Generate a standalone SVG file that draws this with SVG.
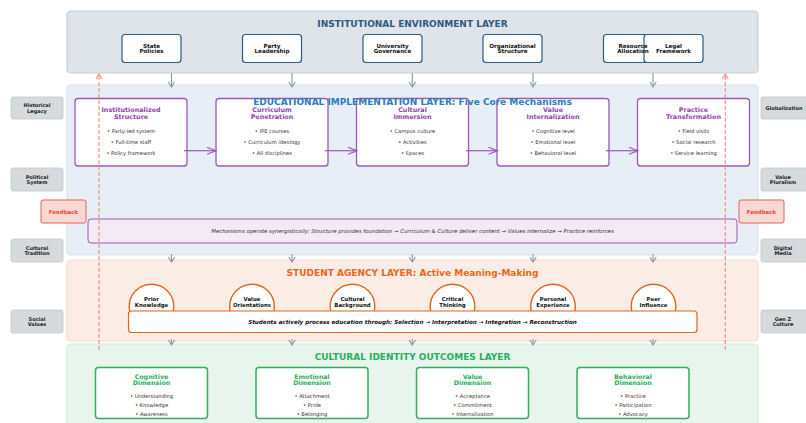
<svg xmlns="http://www.w3.org/2000/svg" width="806" height="423" viewBox="0 0 806 423">
<defs>
<style>
text{font-family:"DejaVu Sans","Liberation Sans",sans-serif;text-anchor:middle}
.ltitle{font-size:9px;font-weight:bold}
.tn{fill:#fff;stroke:#2b5b80;stroke-width:1.2}
.tnt{font-size:5.6px;font-weight:bold;fill:#111}
.mech{fill:#fff;stroke:#9b59b6;stroke-width:1.3}
.mt{font-size:6.4px;font-weight:bold;fill:#8e44ad}
.bul{font-size:5.2px;fill:#333}
.circ{fill:#fff;stroke:#e0651c;stroke-width:1.4}
.ct{font-size:5.4px;font-weight:bold;fill:#111}
.out{fill:#fff;stroke:#2eae62;stroke-width:1.5}
.ot{font-size:6.3px;font-weight:bold;fill:#27ae60}
.side{fill:#d6dadc;stroke:#c3c8cb;stroke-width:0.8}
.st{font-size:5px;font-weight:bold;fill:#222}
.fb{fill:#fad8d4;stroke:#e8604e;stroke-width:1}
.fbt{font-size:5.5px;font-weight:bold;fill:#e74c3c}
.garrow{stroke:#8a96a2;stroke-width:1.1;fill:none;marker-end:url(#ga)}
.parrow{stroke:#9b59b6;stroke-width:1.2;fill:none;marker-end:url(#pa)}
.rdash{stroke:#f08a7c;stroke-width:1.1;fill:none;stroke-dasharray:4 2;marker-end:url(#ra)}
</style>
<marker id="ga" markerWidth="8" markerHeight="8" refX="6" refY="4" orient="auto" markerUnits="userSpaceOnUse"><path d="M1,0.8 L6,4 L1,7.2" fill="none" stroke="#8a96a2" stroke-width="1.1"/></marker>
<marker id="pa" markerWidth="12" markerHeight="10" refX="10" refY="5" orient="auto" markerUnits="userSpaceOnUse"><path d="M1,1.5 L10,5 L1,8.5" fill="none" stroke="#9b59b6" stroke-width="1.2"/></marker>
<marker id="ra" markerWidth="8" markerHeight="8" refX="6" refY="4" orient="auto" markerUnits="userSpaceOnUse"><path d="M1,1 L6,4 L1,7" fill="none" stroke="#f08a7c" stroke-width="1.1"/></marker>
</defs>
<rect width="806" height="423" fill="#fff"/>

<!-- Layers -->
<g id="layer-institutional">
<rect x="67" y="11" width="691" height="62" rx="4" fill="#dee4ea" stroke="#c6cfd7" stroke-width="1.2"/>
</g>
<g id="layer-educational">
<rect x="67" y="85" width="691" height="170" rx="4" fill="#e8eef6" stroke="#d8e2ec" stroke-width="1.2"/>
</g>
<g id="layer-student">
<rect x="67" y="260" width="691" height="81" rx="4" fill="#fbede6" stroke="#f6d9ca" stroke-width="1.2"/>
</g>
<g id="layer-outcomes">
<rect x="67" y="344" width="691" height="90" rx="4" fill="#e8f5ec" stroke="#d3ebdb" stroke-width="1.2"/>
</g>

<!-- Side context labels -->
<g id="side-historical-legacy"><rect class="side" x="11" y="97" width="52" height="22" rx="2"/><text class="st" x="37" y="107">Historical</text><text class="st" x="37" y="112.5">Legacy</text></g>
<g id="side-political-system"><rect class="side" x="11" y="168" width="52" height="23" rx="2"/><text class="st" x="37" y="178.5">Political</text><text class="st" x="37" y="184">System</text></g>
<g id="side-cultural-tradition"><rect class="side" x="11" y="239" width="52" height="23" rx="2"/><text class="st" x="37" y="249.5">Cultural</text><text class="st" x="37" y="255">Tradition</text></g>
<g id="side-social-values"><rect class="side" x="11" y="310" width="52" height="23" rx="2"/><text class="st" x="37" y="320.5">Social</text><text class="st" x="37" y="326">Values</text></g>
<g id="side-globalization"><rect class="side" x="761" y="97" width="52" height="22" rx="2"/><text class="st" x="784" y="109.5">Globalization</text></g>
<g id="side-value-pluralism"><rect class="side" x="761" y="168" width="52" height="23" rx="2"/><text class="st" x="783" y="178.5">Value</text><text class="st" x="783" y="184">Pluralism</text></g>
<g id="side-digital-media"><rect class="side" x="761" y="239" width="52" height="23" rx="2"/><text class="st" x="783" y="249.5">Digital</text><text class="st" x="783" y="255">Media</text></g>
<g id="side-genz-culture"><rect class="side" x="761" y="310" width="52" height="23" rx="2"/><text class="st" x="783" y="320.5">Gen Z</text><text class="st" x="783" y="326">Culture</text></g>

<!-- Feedback labels -->
<g id="feedback-left"><rect class="fb" x="41" y="200" width="45" height="23" rx="2"/><text class="fbt" x="63.5" y="213.5">Feedback</text></g>
<g id="feedback-right"><rect class="fb" x="739" y="200" width="45" height="23" rx="2"/><text class="fbt" x="761.5" y="213.5">Feedback</text></g>

<!-- Layer titles -->
<text class="ltitle" x="412.5" y="27.2" fill="#2b5a7e">INSTITUTIONAL ENVIRONMENT LAYER</text>

<!-- Institutional nodes -->
<g id="node-state-policies"><rect class="tn" x="122" y="34.5" width="59" height="28" rx="3"/><text class="tnt" x="151.5" y="47.7">State</text><text class="tnt" x="151.5" y="53.3">Policies</text></g>
<g id="node-party-leadership"><rect class="tn" x="242.5" y="34.5" width="59" height="28" rx="3"/><text class="tnt" x="272" y="47.7">Party</text><text class="tnt" x="272" y="53.3">Leadership</text></g>
<g id="node-university-governance"><rect class="tn" x="363" y="34.5" width="59" height="28" rx="3"/><text class="tnt" x="392.5" y="47.7">University</text><text class="tnt" x="392.5" y="53.3">Governance</text></g>
<g id="node-organizational-structure"><rect class="tn" x="483" y="34.5" width="59" height="28" rx="3"/><text class="tnt" x="512.5" y="47.7">Organizational</text><text class="tnt" x="512.5" y="53.3">Structure</text></g>
<g id="node-resource-allocation"><rect class="tn" x="603.5" y="34.5" width="59" height="28" rx="3"/></g>
<g id="node-legal-framework"><rect class="tn" x="644" y="34.5" width="59" height="28" rx="3"/><text class="tnt" x="673.5" y="47.7">Legal</text><text class="tnt" x="673.5" y="53.3">Framework</text></g>
<g id="node-resource-allocation-label"><text class="tnt" x="633" y="47.7">Resource</text><text class="tnt" x="633" y="53.3">Allocation</text></g>

<!-- Mechanism nodes -->
<g id="mech-institutionalized-structure"><rect class="mech" x="75" y="98.5" width="112" height="67.5" rx="3"/><text class="mt" x="131" y="112.2">Institutionalized</text><text class="mt" x="131" y="118.5">Structure</text><text class="bul" x="131" y="132.6">• Party-led system</text><text class="bul" x="131" y="143.9">• Full-time staff</text><text class="bul" x="131" y="155.2">• Policy framework</text></g>
<g id="mech-curriculum-penetration"><rect class="mech" x="216" y="98.5" width="112" height="67.5" rx="3"/><text class="mt" x="272" y="112.2">Curriculum</text><text class="mt" x="272" y="118.5">Penetration</text><text class="bul" x="272" y="132.6">• IPE courses</text><text class="bul" x="272" y="143.9">• Curriculum ideology</text><text class="bul" x="272" y="155.2">• All disciplines</text></g>
<g id="mech-cultural-immersion"><rect class="mech" x="356.5" y="98.5" width="112" height="67.5" rx="3"/><text class="mt" x="412.5" y="112.2">Cultural</text><text class="mt" x="412.5" y="118.5">Immersion</text><text class="bul" x="412.5" y="132.6">• Campus culture</text><text class="bul" x="412.5" y="143.9">• Activities</text><text class="bul" x="412.5" y="155.2">• Spaces</text></g>
<g id="mech-value-internalization"><rect class="mech" x="497" y="98.5" width="112" height="67.5" rx="3"/><text class="mt" x="553" y="112.2">Value</text><text class="mt" x="553" y="118.5">Internalization</text><text class="bul" x="553" y="132.6">• Cognitive level</text><text class="bul" x="553" y="143.9">• Emotional level</text><text class="bul" x="553" y="155.2">• Behavioral level</text></g>
<g id="mech-practice-transformation"><rect class="mech" x="637.5" y="98.5" width="112" height="67.5" rx="3"/><text class="mt" x="693.5" y="112.2">Practice</text><text class="mt" x="693.5" y="118.5">Transformation</text><text class="bul" x="693.5" y="132.6">• Field visits</text><text class="bul" x="693.5" y="143.9">• Social research</text><text class="bul" x="693.5" y="155.2">• Service learning</text></g>

<text class="ltitle" x="412.5" y="104.6" fill="#2e7bbd">EDUCATIONAL IMPLEMENTATION LAYER: Five Core Mechanisms</text>

<!-- Synergy note -->
<g id="synergy-note"><rect x="88" y="219" width="649" height="24" rx="3" fill="#f3eaf6" stroke="#9b59b6" stroke-width="1"/><text x="412.5" y="233" style="font-size:5.4px;font-style:italic;fill:#333">Mechanisms operate synergistically: Structure provides foundation → Curriculum &amp; Culture deliver content → Values internalize → Practice reinforces</text></g>

<!-- Student layer -->
<text class="ltitle" x="412.5" y="276" fill="#e8671b">STUDENT AGENCY LAYER: Active Meaning-Making</text>
<g id="agency-prior-knowledge"><circle class="circ" cx="151.5" cy="306.5" r="22.3"/><text class="ct" x="151.5" y="301.3">Prior</text><text class="ct" x="151.5" y="306.6">Knowledge</text></g>
<g id="agency-value-orientations"><circle class="circ" cx="252" cy="306.5" r="22.3"/><text class="ct" x="252" y="301.3">Value</text><text class="ct" x="252" y="306.6">Orientations</text></g>
<g id="agency-cultural-background"><circle class="circ" cx="352.5" cy="306.5" r="22.3"/><text class="ct" x="352.5" y="301.3">Cultural</text><text class="ct" x="352.5" y="306.6">Background</text></g>
<g id="agency-critical-thinking"><circle class="circ" cx="452.5" cy="306.5" r="22.3"/><text class="ct" x="452.5" y="301.3">Critical</text><text class="ct" x="452.5" y="306.6">Thinking</text></g>
<g id="agency-personal-experience"><circle class="circ" cx="553" cy="306.5" r="22.3"/><text class="ct" x="553" y="301.3">Personal</text><text class="ct" x="553" y="306.6">Experience</text></g>
<g id="agency-peer-influence"><circle class="circ" cx="653.5" cy="306.5" r="22.3"/><text class="ct" x="653.5" y="301.3">Peer</text><text class="ct" x="653.5" y="306.6">Influence</text></g>
<g id="process-note"><rect x="128.5" y="311" width="568.5" height="21.5" rx="3" fill="#fff" stroke="#e0651c" stroke-width="1.2"/><text x="412.5" y="324" style="font-size:5.6px;font-weight:bold;font-style:italic;fill:#111">Students actively process education through: Selection → Interpretation → Integration → Reconstruction</text></g>

<!-- Outcomes layer -->
<text class="ltitle" x="412.5" y="360" fill="#27ae60">CULTURAL IDENTITY OUTCOMES LAYER</text>
<g id="outcome-cognitive"><rect class="out" x="95.5" y="367.5" width="112" height="51" rx="3"/><text class="ot" x="151.5" y="378.6">Cognitive</text><text class="ot" x="151.5" y="385.3">Dimension</text><text class="bul" x="151.5" y="398">• Understanding</text><text class="bul" x="151.5" y="407">• Knowledge</text><text class="bul" x="151.5" y="416">• Awareness</text></g>
<g id="outcome-emotional"><rect class="out" x="256" y="367.5" width="112" height="51" rx="3"/><text class="ot" x="312" y="378.6">Emotional</text><text class="ot" x="312" y="385.3">Dimension</text><text class="bul" x="312" y="398">• Attachment</text><text class="bul" x="312" y="407">• Pride</text><text class="bul" x="312" y="416">• Belonging</text></g>
<g id="outcome-value"><rect class="out" x="416.5" y="367.5" width="112" height="51" rx="3"/><text class="ot" x="472.5" y="378.6">Value</text><text class="ot" x="472.5" y="385.3">Dimension</text><text class="bul" x="472.5" y="398">• Acceptance</text><text class="bul" x="472.5" y="407">• Commitment</text><text class="bul" x="472.5" y="416">• Internalization</text></g>
<g id="outcome-behavioral"><rect class="out" x="577" y="367.5" width="112" height="51" rx="3"/><text class="ot" x="633" y="378.6">Behavioral</text><text class="ot" x="633" y="385.3">Dimension</text><text class="bul" x="633" y="398">• Practice</text><text class="bul" x="633" y="407">• Participation</text><text class="bul" x="633" y="416">• Advocacy</text></g>

<!-- Connectors -->
<g id="connectors">
<path class="garrow" d="M171.5,73 V87"/>
<path class="garrow" d="M292,73 V87"/>
<path class="garrow" d="M412.3,73 V87"/>
<path class="garrow" d="M533,73 V87"/>
<path class="garrow" d="M653,73 V87"/>
<path class="garrow" d="M171.5,254 V262"/>
<path class="garrow" d="M292,254 V262"/>
<path class="garrow" d="M412.3,254 V262"/>
<path class="garrow" d="M533,254 V262"/>
<path class="garrow" d="M653,254 V262"/>
<path class="garrow" d="M171.5,339 V345"/>
<path class="garrow" d="M292,339 V345"/>
<path class="garrow" d="M412.3,339 V345"/>
<path class="garrow" d="M533,339 V345"/>
<path class="garrow" d="M653,339 V345"/>
<path class="parrow" d="M184,150.7 H216"/>
<path class="parrow" d="M325,150.7 H357"/>
<path class="parrow" d="M466,150.7 H497.5"/>
<path class="parrow" d="M606,150.7 H638"/>
<path class="rdash" d="M99,350 V74"/>
<path class="rdash" d="M725.3,350 V74"/>
</g>
</svg>
